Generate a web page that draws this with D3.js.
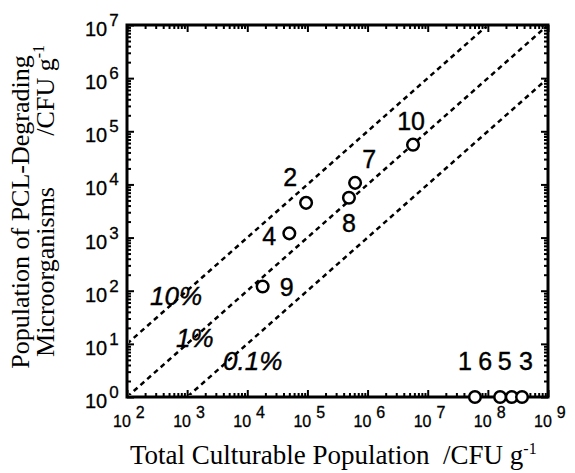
<!DOCTYPE html>
<html>
<head>
<meta charset="utf-8">
<script src="https://cdn.jsdelivr.net/npm/d3@7"></script>
<style>
  body { margin: 0; background: #fff; }
  svg { display: block; }
  .tick-lbl { font-family: "Liberation Sans", Arial, sans-serif; fill: #000; stroke: #000; stroke-width: 0.3; }
  .title { font-family: "Liberation Serif", "Times New Roman", serif; fill: #000; font-size: 26px; white-space: pre; }
  .pt-lbl { font-family: "Liberation Sans", Arial, sans-serif; font-size: 25px; fill: #000; stroke: #000; stroke-width: 0.4; }
  .ratio-lbl { font-family: "Liberation Sans", Arial, sans-serif; font-size: 26px; font-style: italic; fill: #000; stroke: #000; stroke-width: 0.4; }
</style>
</head>
<body>
<script>
// Sample numbers, total culturable population and PCL-degrading population (CFU/g)
var sampleLabels = ["2", "4", "9", "7", "8", "10", "1", "6", "5", "3"];
var totalPop    = [9.5e4, 5.0e4, 1.8e4, 6.2e5, 4.9e5, 5.7e6, 6.1e7, 1.6e8, 2.5e8, 3.7e8];
var degradPop   = [4.5e3, 1.2e3, 1.2e2, 1.07e4, 5.6e3, 5.6e4, 1, 1, 1, 1];

// Reference ratio lines (degrading / total)
var ratioValues = [0.1, 0.01, 0.001];
var ratioLabels = ["10%", "1%", "0.1%"];

// Axis decades
var xDecades = [2, 3, 4, 5, 6, 7, 8, 9];
var yDecades = [0, 1, 2, 3, 4, 5, 6, 7];

// label offsets from the circle (dx, dy of text baseline)
var labelOffset = [[-16, -17], [-20, 12], [24, 9], [14, -15], [0, 34], [-2, -15],
                   [-10, -27], [-15, -27], [-7, -27], [4, -27]];
var ratioLabelPos = [[150, 305], [176, 347], [223, 370]];

var W = 575, H = 473;
var margin = {top: 25, right: 27, bottom: 76, left: 127},
    width = W - margin.left - margin.right,
    height = H - margin.top - margin.bottom;

var svg = d3.select("body").append("svg")
    .attr("width", W)
    .attr("height", H);

var g = svg.append("g")
    .attr("transform", "translate(" + margin.left + "," + margin.top + ")");

var x = d3.scaleLog().domain([1e2, 1e9]).range([0, width]);
var y = d3.scaleLog().domain([1, 1e7]).range([height, 0]);

// clip for ratio lines
svg.append("defs").append("clipPath").attr("id", "plotclip")
  .append("rect").attr("x", 2).attr("y", 2).attr("width", width - 4).attr("height", height - 4);

function isMajor(d) {
  var e = Math.log10(d);
  return Math.abs(e - Math.round(e)) < 1e-6;
}

// ticks, all pointing inward
function drawTicks(axisFn, scale, transform) {
  var ax = g.append("g")
      .attr("transform", transform)
      .call(axisFn(scale).tickValues(scale.ticks()).tickFormat("").tickSizeOuter(0));
  ax.select(".domain").remove();
  ax.selectAll(".tick line")
      .attr("stroke", "#000")
      .attr("stroke-width", 2);
  return ax;
}

var bottomAx = drawTicks(d3.axisTop, x, "translate(0," + height + ")");
bottomAx.selectAll(".tick line").attr("y2", function(d) { return isMajor(d) ? -7 : -4; });
var topAx = drawTicks(d3.axisBottom, x, "translate(0,0)");
topAx.selectAll(".tick line").attr("y2", function(d) { return isMajor(d) ? 7 : 4; });
var leftAx = drawTicks(d3.axisRight, y, "translate(0,0)");
leftAx.selectAll(".tick line").attr("x2", function(d) { return isMajor(d) ? 7 : 4; });
var rightAx = drawTicks(d3.axisLeft, y, "translate(" + width + ",0)");
rightAx.selectAll(".tick line").attr("x2", function(d) { return isMajor(d) ? -7 : -4; });

// frame
g.append("rect")
    .attr("width", width)
    .attr("height", height)
    .attr("fill", "none")
    .attr("stroke", "#000")
    .attr("stroke-width", 3);

// tick labels
var xl = g.append("g").selectAll("text").data(xDecades).enter().append("text")
    .attr("class", "tick-lbl")
    .attr("x", function(d) { return x(Math.pow(10, d)) - 14; })
    .attr("y", height + 30);
xl.append("tspan").style("font-size", "16px").text("10");
xl.append("tspan").style("font-size", "16px").attr("dx", 5).attr("dy", -9).text(function(d) { return d; });

var yl = g.append("g").selectAll("text").data(yDecades).enter().append("text")
    .attr("class", "tick-lbl")
    .attr("x", -42)
    .attr("y", function(d) { return y(Math.pow(10, d)) + 11; });
yl.append("tspan").style("font-size", "20px").text("10");
yl.append("tspan").style("font-size", "17px").attr("dx", 2).attr("dy", -10).text(function(d) { return d; });

// ratio lines
var lineGen = d3.line()
    .x(function(d) { return x(d[0]); })
    .y(function(d) { return y(d[1]); });

g.append("g").attr("clip-path", "url(#plotclip)")
  .selectAll("path").data(ratioValues).enter().append("path")
    .attr("d", function(r) { return lineGen([[1e2, 1e2 * r], [1e9, 1e9 * r]]); })
    .attr("fill", "none")
    .attr("stroke", "#000")
    .attr("stroke-width", 2.5)
    .attr("stroke-dasharray", "5,4");

svg.append("g").selectAll("text").data(ratioLabels).enter().append("text")
    .attr("class", "ratio-lbl")
    .attr("x", function(d, i) { return ratioLabelPos[i][0]; })
    .attr("y", function(d, i) { return ratioLabelPos[i][1]; })
    .text(function(d) { return d; });

// points
var pts = sampleLabels.map(function(l, i) { return {label: l, tx: totalPop[i], dg: degradPop[i], off: labelOffset[i]}; });

g.append("g").selectAll("circle").data(pts).enter().append("circle")
    .attr("cx", function(d) { return x(d.tx); })
    .attr("cy", function(d) { return y(d.dg); })
    .attr("r", 5.8)
    .attr("fill", "#fff")
    .attr("stroke", "#000")
    .attr("stroke-width", 2.5);

g.append("g").selectAll("text").data(pts).enter().append("text")
    .attr("class", "pt-lbl")
    .attr("text-anchor", "middle")
    .attr("x", function(d) { return x(d.tx) + d.off[0]; })
    .attr("y", function(d) { return y(d.dg) + d.off[1]; })
    .text(function(d) { return d.label; });

// axis titles
var xt = svg.append("text")
    .attr("class", "title")
    .style("font-size", "27px")
    .attr("x", 130)
    .attr("y", 464);
xt.append("tspan").text("Total Culturable Population  /CFU g");
xt.append("tspan").style("font-size", "16px").attr("dy", -10).text("-1");

var yt = svg.append("g").attr("transform", "rotate(-90)");
yt.append("text")
    .attr("class", "title")
    .attr("text-anchor", "middle")
    .attr("x", -212)
    .attr("y", 29)
    .text("Population of PCL-Degrading");
yt.append("text")
    .attr("class", "title")
    .attr("text-anchor", "middle")
    .attr("x", -272)
    .attr("y", 54)
    .text("Microorganisms");
var cfu = yt.append("text")
    .attr("class", "title")
    .attr("text-anchor", "end")
    .attr("x", -45)
    .attr("y", 54);
cfu.append("tspan").text("/CFU g");
cfu.append("tspan").style("font-size", "16px").attr("dy", -10).text("-1");
</script>
</body>
</html>
